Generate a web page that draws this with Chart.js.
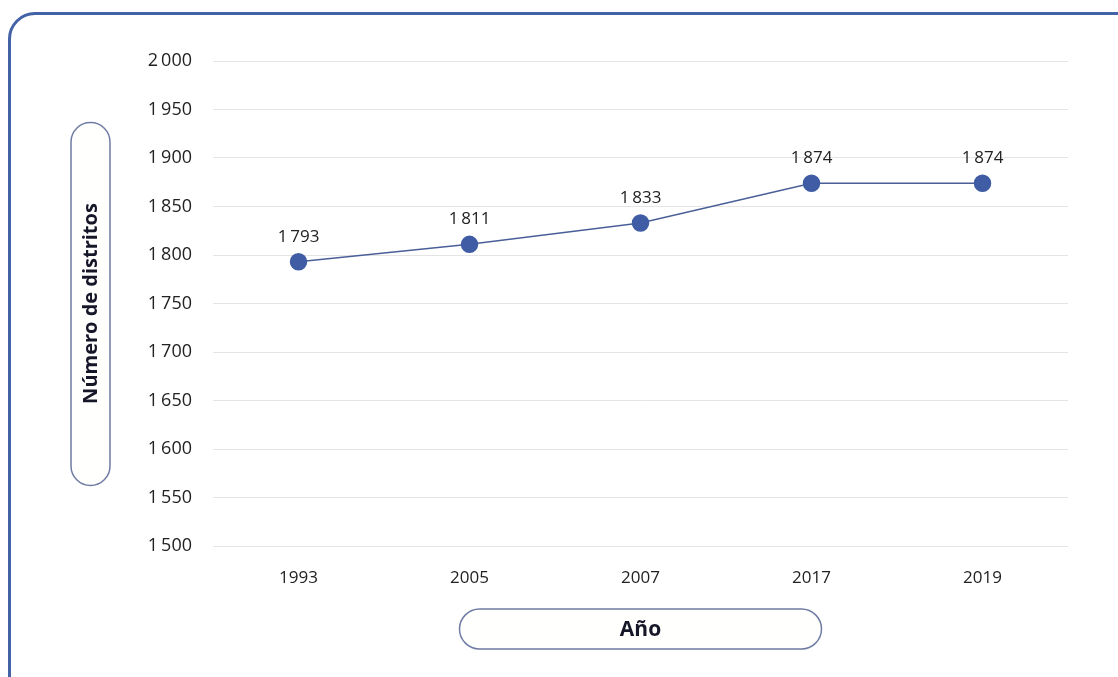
<!DOCTYPE html>
<html>
<head>
<meta charset="utf-8">
<script src="https://cdn.jsdelivr.net/npm/chart.js@4.4.0/dist/chart.umd.min.js"></script>
<style>
  html, body { margin: 0; padding: 0; background: #fff; overflow: hidden; }
  #wrap { position: relative; width: 1118px; height: 677px; }
  #frame {
    position: absolute; left: 8px; top: 12px; width: 1140px; height: 700px;
    border: 3px solid #4363a6; border-radius: 27px; box-sizing: border-box;
  }
  canvas { position: absolute; left: 0; top: 0; }
</style>
</head>
<body>
<div id="wrap">
  <div id="frame"></div>
  <canvas id="myChart" width="1118" height="677"></canvas>
</div>
<script>
var years = ['1993', '2005', '2007', '2017', '2019'];
var distritos = [1793, 1811, 1833, 1874, 1874];
var yTicks = [1500, 1550, 1600, 1650, 1700, 1750, 1800, 1850, 1900, 1950, 2000];
var yTitle = 'Número de distritos';
var xTitle = 'Año';

var FONT = '"Open Sans", "DejaVu Sans", sans-serif';

// miles con espacio fino, como en el original
function fmt(v) {
  var s = String(v);
  return s.length > 3 ? s.slice(0, s.length - 3) + '\u2009' + s.slice(-3) : s;
}

function pill(ctx, x, y, w, h) {
  ctx.save();
  ctx.beginPath();
  ctx.roundRect(x, y, w, h, Math.min(w, h) / 2);
  ctx.fillStyle = '#fffffe';
  ctx.fill();
  ctx.lineWidth = 1.5;
  ctx.strokeStyle = '#6f7ca3';
  ctx.stroke();
  ctx.restore();
}

var extras = {
  id: 'extras',
  afterDraw: function(chart) {
    var ctx = chart.ctx;
    var a = chart.chartArea;
    var midY = (a.top + a.bottom) / 2;
    var midX = (a.left + a.right) / 2;

    // y title pill
    pill(ctx, a.left - 142, midY - 181, 39, 363);
    ctx.save();
    ctx.translate(a.left - 122.5, midY);
    ctx.rotate(-Math.PI / 2);
    ctx.font = 'bold 20px ' + FONT;
    ctx.fillStyle = '#161629';
    ctx.textAlign = 'center';
    ctx.textBaseline = 'middle';
    ctx.fillText(yTitle, 0, 1);
    ctx.restore();

    // x title pill
    pill(ctx, midX - 181, a.bottom + 63, 362, 40);
    ctx.save();
    ctx.font = 'bold 21px ' + FONT;
    ctx.fillStyle = '#161629';
    ctx.textAlign = 'center';
    ctx.textBaseline = 'middle';
    ctx.fillText(xTitle, midX, a.bottom + 84);
    ctx.restore();

    // value labels
    var meta = chart.getDatasetMeta(0);
    ctx.save();
    ctx.font = '17px ' + FONT;
    ctx.fillStyle = '#222';
    ctx.textAlign = 'center';
    ctx.textBaseline = 'middle';
    meta.data.forEach(function(p, i) {
      ctx.fillText(fmt(distritos[i]), p.x, p.y - 25);
    });
    ctx.restore();
  }
};

var chart = new Chart(document.getElementById('myChart'), {
  type: 'line',
  data: {
    labels: years,
    datasets: [{
      data: distritos,
      borderColor: '#4a5f98',
      borderWidth: 1.5,
      pointBackgroundColor: '#3f5ca4',
      pointBorderColor: '#3f5ca4',
      pointRadius: 8,
      tension: 0
    }]
  },
  options: {
    responsive: false,
    animation: false,
    layout: { padding: { left: 0, top: 61, right: 50, bottom: 81 } },
    plugins: { legend: { display: false }, tooltip: { enabled: false } },
    scales: {
      x: {
        offset: true,
        grid: { display: false },
        border: { display: false },
        ticks: { color: '#222', font: { family: FONT, size: 17 }, padding: 14 },
        afterFit: function(s) { s.height = 50; }
      },
      y: {
        min: 1500,
        max: 2000,
        afterBuildTicks: function(s) { s.ticks = yTicks.map(function(v) { return { value: v }; }); },
        grid: { color: '#e4e4e4', lineWidth: 1, drawTicks: false },
        border: { display: false },
        ticks: {
          color: '#222', font: { family: FONT, size: 18 }, padding: 21,
          callback: function(v) { return fmt(v); }
        },
        afterFit: function(s) { s.width = 213; }
      }
    }
  },
  plugins: [extras]
});
</script>
</body>
</html>
